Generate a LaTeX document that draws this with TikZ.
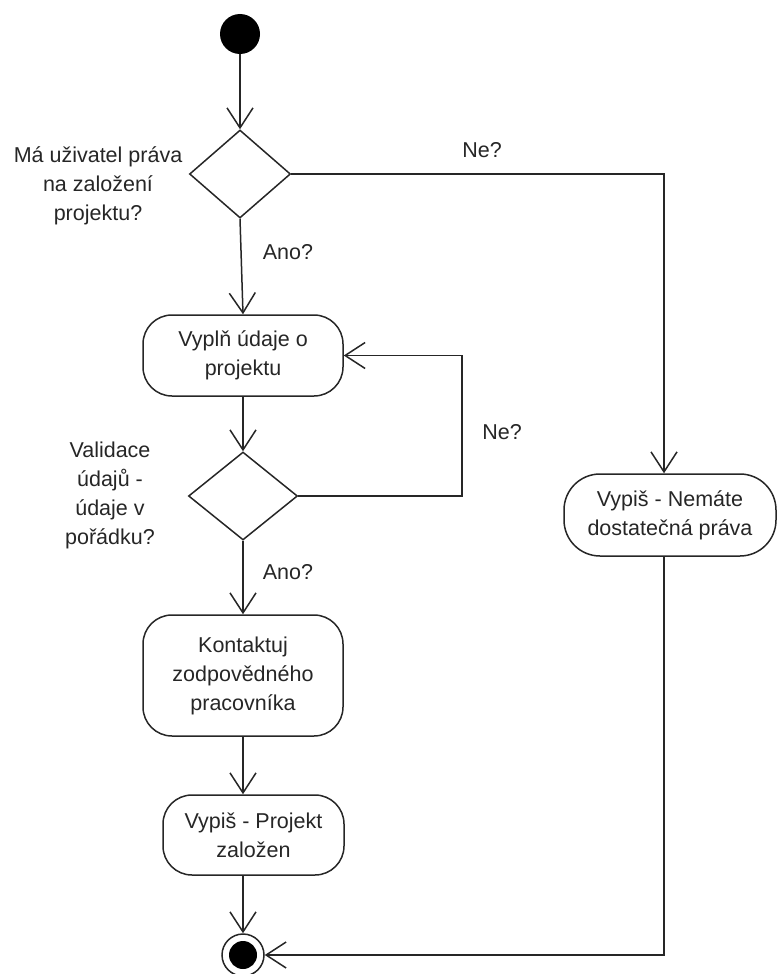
\documentclass[tikz,border=0pt]{standalone}
\usepackage{fontspec}
\setmainfont{Liberation Sans}
\usetikzlibrary{shapes.geometric,arrows.meta}
\begin{document}
\begin{tikzpicture}[x=1pt,y=-1pt,
  every node/.style={text=black!85, font=\fontsize{21.5}{29}\selectfont},
  edge/.style={line width=1.5pt, draw=black!85},
  flow/.style={edge, -{Straight Barb[length=20pt,width=26pt]}},
  action/.style={draw=black!85, line width=1.5pt, rounded corners=29pt, align=center, inner sep=0pt},
  decision/.style={draw=black!85, line width=1.5pt, diamond, inner sep=0pt},
  guard/.style={align=center, inner sep=0pt},
]
\useasboundingbox (0,0) rectangle (779,974);

% initial and final states
\node[circle, fill=black, minimum size=40pt, inner sep=0pt] (start) at (240,34) {};
\node[circle, draw=black!85, line width=1.5pt, minimum size=42pt, inner sep=0pt] (final) at (243,955) {};
\fill[black] (final.center) circle (14pt);

% decisions
\node[decision, minimum width=101pt, minimum height=88pt] (d1) at (240,174) {};
\node[decision, minimum width=109pt, minimum height=88pt] (d2) at (243,496) {};

% actions
\node[action, minimum width=200pt, minimum height=81pt] (b1) at (243,355.5) {Vyplň údaje o\\projektu};
\node[action, minimum width=200pt, minimum height=121pt] (b2) at (243,675.5) {Kontaktuj\\zodpovědného\\pracovníka};
\node[action, minimum width=181pt, minimum height=80pt] (b3) at (253.5,835) {Vypiš - Projekt\\založen};
\node[action, minimum width=212pt, minimum height=82pt, rounded corners=36pt] (b4) at (670,515) {Vypiš - Nemáte\\dostatečná práva};

% decision questions and guards
\node[guard] (q1) at (98,186) {Má uživatel práva\\na založení\\projektu?};
\node[guard] (q2) at (110,495) {Validace\\údajů -\\údaje v\\pořádku?};
\node[guard] (g1) at (288,252) {Ano?};
\node[guard] (g2) at (482,150) {Ne?};
\node[guard] (g3) at (502,432) {Ne?};
\node[guard] (g4) at (288,572) {Ano?};

% bend points
\coordinate (r1) at (664,174);
\coordinate (r2) at (664,955);
\coordinate (l1) at (462,496);
\coordinate (l2) at (462,355.5);

% flows
\draw[flow] (start) -- (d1.north);
\draw[flow] (d1.south) -- (b1.north);
\draw[flow] (b1.south) -- (d2.north);
\draw[flow] (d2.south) -- (b2.north);
\draw[flow] (b2.south) -- (b2.south |- b3.north);
\draw[flow] (b3.south -| final.north) -- (final.north);
\draw[flow] (d2.east) -- (l1) -- (l2) -- (b1.east);
\draw[flow] (d1.east) -- (r1) -- (r1 |- b4.north);
\draw[flow] (r1 |- b4.south) -- (r2) -- (final.east);
\end{tikzpicture}
\end{document}
